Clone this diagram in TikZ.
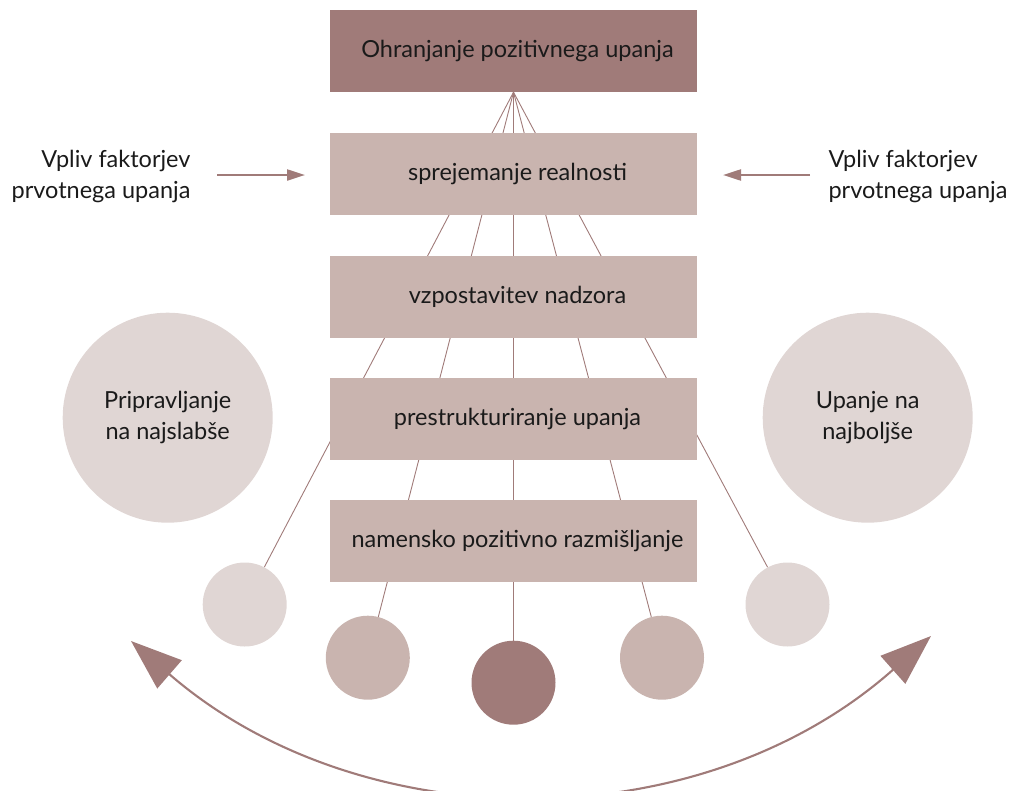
\documentclass[tikz,border=0pt]{standalone}
\usepackage{fontspec}
\setmainfont{Lato}
\usetikzlibrary{arrows.meta,backgrounds}
\definecolor{dark}{RGB}{160,123,121}
\definecolor{mid}{RGB}{201,180,175}
\definecolor{pale}{RGB}{224,214,212}
\definecolor{ink}{RGB}{26,26,26}
\begin{document}
\begin{tikzpicture}[x=1pt,y=-1pt,
  lbl/.style={text=ink,font=\fontsize{23.5}{31}\selectfont},
  stagebox/.style={lbl,rectangle,fill=mid,minimum width=367pt,minimum height=82pt,inner sep=0pt,
    execute at begin node={\hspace*{8pt}}},
  topbox/.style={stagebox,fill=dark},
  bigdot/.style={lbl,circle,fill=pale,minimum size=210pt,inner sep=0pt,align=center},
  dot/.style={circle,minimum size=84pt,inner sep=0pt},
  fan/.style={draw=dark,line width=0.9pt},
  sidearrow/.style={draw=dark,line width=2.2pt,-{Triangle[length=18pt,width=11pt]}},
  swing/.style={draw=dark,line width=2.1pt,{Triangle[length=51pt,width=37pt]}-{Triangle[length=51pt,width=37pt]}}
]
\useasboundingbox (0,0) rectangle (1011,790);
% stages
\node[topbox]   (top) at (513.5,51)    {Ohranjanje pozitivnega upanja};
\node[stagebox] (b1)  at (513.5,174.3) {sprejemanje realnosti};
\node[stagebox] (b2)  at (513.5,296.8) {vzpostavitev nadzora};
\node[stagebox] (b3)  at (513.5,418.5) {prestrukturiranje upanja};
\node[stagebox] (b4)  at (513.5,540.5) {namensko pozitivno razmišljanje};
% big circles
\node[bigdot] (lbig) at (167.7,417.7) {Pripravljanje\\na najslabše};
\node[bigdot] (rbig) at (867.7,417.7) {Upanje na\\najboljše};
% small circles
\node[dot,fill=pale] (c1) at (244.7,604.5) {};
\node[dot,fill=mid]  (c2) at (367.8,657.7) {};
\node[dot,fill=dark] (c3) at (513.5,682.7) {};
\node[dot,fill=mid]  (c4) at (662.0,657.7) {};
\node[dot,fill=pale] (c5) at (787.5,604.5) {};
% fan lines behind everything
\begin{scope}[on background layer]
  \foreach \c in {c1,c2,c3,c4,c5}
    \draw[fan] (top.south) -- (\c);
\end{scope}
% side texts and arrows
\node[lbl,align=right,anchor=east] (ltext) at (194,176) {Vpliv faktorjev\\prvotnega upanja};
\node[lbl,align=left,anchor=west]  (rtext) at (825,176) {Vpliv faktorjev\\prvotnega upanja};
\coordinate (la1) at (217,175);
\coordinate (la2) at (305,175);
\coordinate (ra1) at (810,175);
\coordinate (ra2) at (723,175);
\draw[sidearrow] (la1) -- (la2);
\draw[sidearrow] (ra1) -- (ra2);
% swing arrow
\coordinate (swl) at (131,641);
\coordinate (swr) at (931,636);
\draw[swing] (swl) .. controls (362,841) and (700,841) .. (swr);
\end{tikzpicture}
\end{document}
